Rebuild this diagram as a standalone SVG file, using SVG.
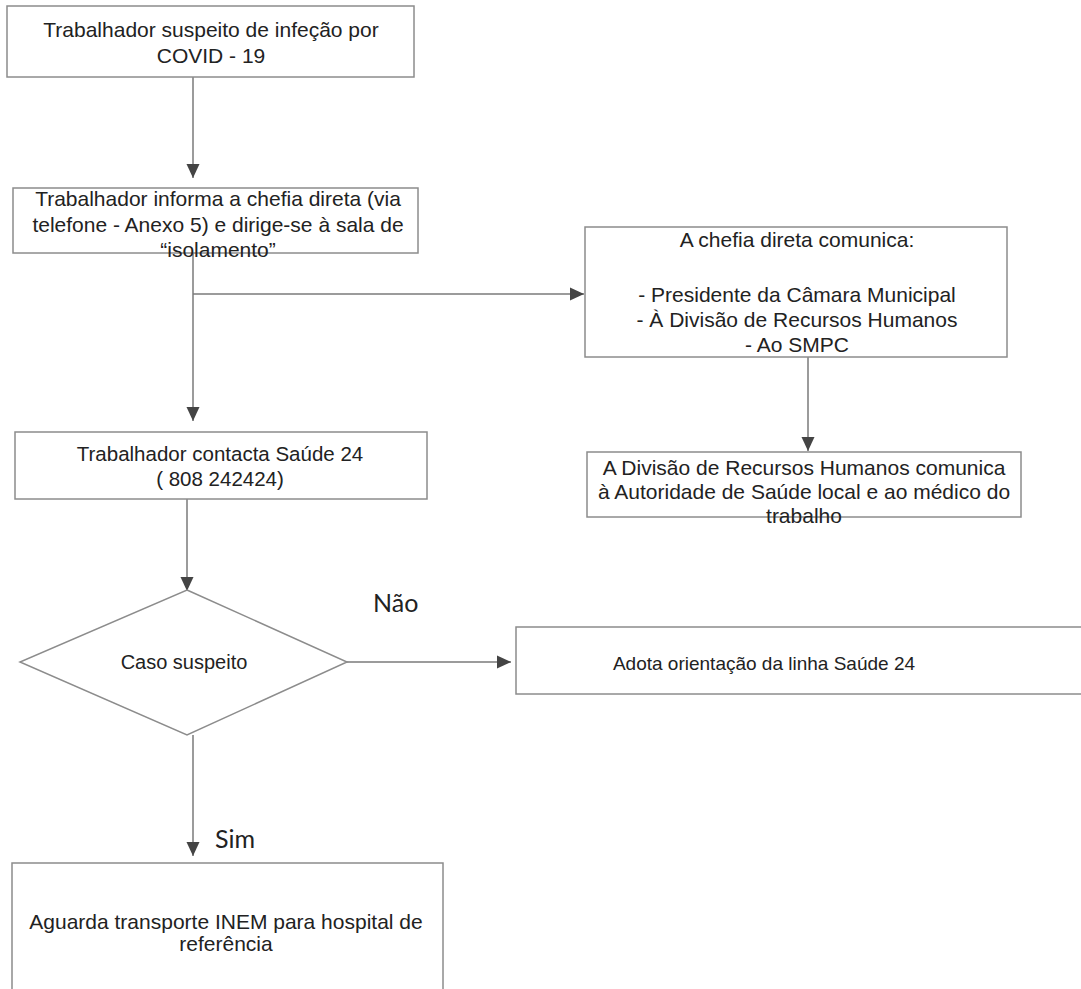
<svg xmlns="http://www.w3.org/2000/svg" width="1081" height="989" viewBox="0 0 1081 989">
<style>
.box{fill:#fff;stroke:#8c8c8c;stroke-width:1.5}
.t{font-family:"Liberation Sans",Arial,sans-serif;font-size:21px;fill:#222;text-anchor:middle}
.lbl{font-family:Lato,"Open Sans",sans-serif;font-size:25px;fill:#222}
.c{fill:none;stroke:#7a7a7a;stroke-width:1.5}
</style>
<defs>
<marker id="ah" markerUnits="userSpaceOnUse" markerWidth="14" markerHeight="15" viewBox="0 0 14 15" refX="14" refY="7.5" orient="auto">
<path d="M0,1 L14,7.5 L0,14 Z" fill="#444"/>
</marker>
</defs>
<rect width="1081" height="989" fill="#fff"/>
<g id="connectors">
<line class="c" x1="193" y1="77" x2="193" y2="178" marker-end="url(#ah)"/>
<line class="c" x1="193" y1="253" x2="193" y2="421" marker-end="url(#ah)"/>
<line class="c" x1="193" y1="294" x2="584" y2="294" marker-end="url(#ah)"/>
<line class="c" x1="808" y1="357" x2="808" y2="451" marker-end="url(#ah)"/>
<line class="c" x1="187" y1="499" x2="187" y2="591" marker-end="url(#ah)"/>
<line class="c" x1="347" y1="662" x2="511" y2="662" marker-end="url(#ah)"/>
<line class="c" x1="193" y1="735" x2="193" y2="856" marker-end="url(#ah)"/>
<text class="lbl" x="373" y="612">Não</text>
<text class="lbl" x="215" y="848">Sim</text>
</g>
<g id="n1">
<rect class="box" x="7" y="6" width="407" height="71"/>
<text class="t" x="211" y="37">Trabalhador suspeito de infeção por</text>
<text class="t" x="211" y="63">COVID - 19</text>
</g>
<g id="n2">
<rect class="box" x="13" y="188" width="405" height="65"/>
<text class="t" x="218" y="206">Trabalhador informa a chefia direta (via</text>
<text class="t" x="218" y="232">telefone - Anexo 5) e dirige-se à sala de</text>
<text class="t" x="218" y="257">“isolamento”</text>
</g>
<g id="n3">
<rect class="box" x="15" y="432" width="412" height="67"/>
<text class="t" x="220" y="461" style="font-size:20.5px">Trabalhador contacta Saúde 24</text>
<text class="t" x="220" y="486" style="font-size:20.5px">( 808 242424)</text>
</g>
<g id="n4">
<rect class="box" x="585" y="227" width="422" height="130"/>
<text class="t" x="797" y="247">A chefia direta comunica:</text>
<text class="t" x="797" y="302">- Presidente da Câmara Municipal</text>
<text class="t" x="797" y="327">- À Divisão de Recursos Humanos</text>
<text class="t" x="797" y="352">- Ao SMPC</text>
</g>
<g id="n5">
<rect class="box" x="587" y="452" width="434" height="65"/>
<text class="t" x="804" y="475">A Divisão de Recursos Humanos comunica</text>
<text class="t" x="804" y="499">à Autoridade de Saúde local e ao médico do</text>
<text class="t" x="804" y="523">trabalho</text>
</g>
<g id="n6">
<polygon class="box" points="187,590 347,662 187,735 20,662"/>
<text class="t" x="184" y="669" style="font-size:20px">Caso suspeito</text>
</g>
<g id="n7">
<rect class="box" x="516" y="627" width="580" height="67"/>
<text class="t" x="764" y="670" style="font-size:19px">Adota orientação da linha Saúde 24</text>
</g>
<g id="n8">
<rect class="box" x="12" y="863" width="431" height="135"/>
<text class="t" x="226" y="929">Aguarda transporte INEM para hospital de</text>
<text class="t" x="226" y="951">referência</text>
</g>
</svg>
